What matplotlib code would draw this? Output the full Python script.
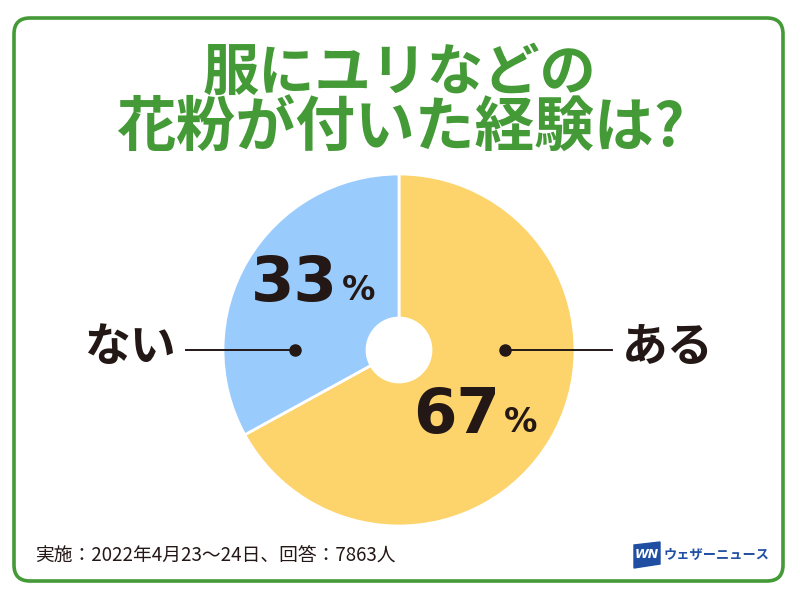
import matplotlib
matplotlib.use("Agg")
import matplotlib.pyplot as plt
from matplotlib.patches import FancyBboxPatch, Polygon

plt.rcParams['font.family'] = ['Noto Sans CJK JP', 'DejaVu Sans']

title_lines = ["服にユリなどの", "花粉が付いた経験は?"]
labels = ["ある", "ない"]
values = [67, 33]
colors = ["#FDD36B", "#99CBFD"]
note = "実施：2022年4月23〜24日、回答：7863人"
brand = "ウェザーニュース"

GREEN = "#449A36"
INK = "#231815"
BLUE = "#1F4EA3"

fig = plt.figure(figsize=(8, 6), dpi=100)
ax = fig.add_axes([0, 0, 1, 1])

# y measured upward in pixels (600 - image y)
cx, cy, r = 399, 250, 176
wedges, _ = ax.pie(values, colors=colors, startangle=90, counterclock=False,
                   center=(cx, cy), radius=r,
                   wedgeprops=dict(width=r - 32, edgecolor="white", linewidth=2))
ax.set_xlim(0, 800)
ax.set_ylim(0, 600)
ax.set_aspect("equal")
ax.axis("off")

# frame
ax.add_patch(FancyBboxPatch((14, 19), 769, 563, boxstyle="round,pad=0,rounding_size=16",
                            fill=False, edgecolor=GREEN, linewidth=2.6))

# title
ax.text(400, 527, title_lines[0], ha="center", va="center", fontsize=40.5,
        fontweight="bold", color=GREEN)
ax.text(400, 470, title_lines[1], ha="center", va="center", fontsize=43,
        fontweight="bold", color=GREEN)

# percentage labels
num_font = ["DejaVu Sans"]
big = dict(fontsize=45, fontweight="bold", color=INK, family=num_font)
small = dict(fontsize=24, fontweight="bold", color=INK, family=num_font)
ax.text(338, 316, f"{values[1]}", ha="right", va="center", **big)
ax.text(342, 309, "%", ha="left", va="center", **small)
ax.text(500, 184, f"{values[0]}", ha="right", va="center", **big)
ax.text(504, 177, "%", ha="left", va="center", **small)

# category labels with leader lines
ax.plot([186, 295], [250, 250], color=INK, linewidth=1.4)
ax.plot([295], [250], "o", color=INK, markersize=8)
ax.text(130, 252, labels[1], ha="center", va="center", fontsize=33,
        fontweight="bold", color=INK)
ax.plot([505, 612], [250, 250], color=INK, linewidth=1.4)
ax.plot([505], [250], "o", color=INK, markersize=8)
ax.text(668, 252, labels[0], ha="center", va="center", fontsize=33,
        fontweight="bold", color=INK)

# footer
ax.text(35, 45, note, ha="left", va="center", fontsize=13.5, color=INK)

# logo
ax.add_patch(Polygon([(634, 32), (660, 36), (660, 58), (634, 55)], closed=True, color=BLUE))
ax.text(647, 45, "WN", ha="center", va="center", fontsize=9, fontweight="bold",
        fontstyle="italic", color="white", family=["DejaVu Sans"])
ax.text(664, 45, brand, ha="left", va="center", fontsize=9.5, fontweight="bold",
        color=BLUE)

fig.savefig("out.png", dpi=100)
